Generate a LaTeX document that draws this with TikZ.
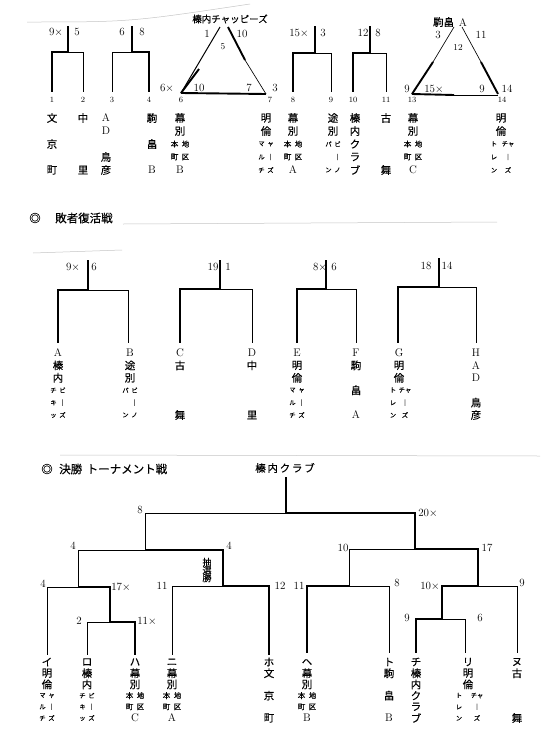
\documentclass[tikz,border=0pt]{standalone}
\usepackage{fontspec}
\newfontfamily\cjk[FakeBold=0.2]{Noto Sans CJK JP}
\usetikzlibrary{positioning}
\tikzset{
  thn/.style={line width=0.65pt},
  bld/.style={line width=1.9pt},
  scan/.style={gray!45,line width=0.5pt},
  sc/.style={font=\fontsize{11}{11}\selectfont,inner sep=0pt},
  no/.style={font=\fontsize{8}{8}\selectfont,inner sep=0pt},
  lb/.style={font=\cjk\fontsize{10.5}{10.5}\selectfont,inner sep=0pt},
  hd/.style={font=\cjk\fontsize{11.5}{11.5}\selectfont,inner sep=0pt}
}
\newcommand\kn{\fontsize{6.3}{6.3}\selectfont}
\newcommand\mdf{\fontsize{7.5}{7.5}\selectfont}
\newcommand\ltn[1]{{\rmfamily\fontsize{11}{11}\selectfont #1}}
\newcommand\kpair[3][9]{\makebox[#1pt]{\kn #2}\makebox[#1pt]{\kn #3}}
\newcommand\vstack[4]{\foreach \lab [count=\k from 0] in {#4}{\node[lb] (c#1r\k) at (#1,#2+\k*#3) {\lab};}}

\begin{document}
\begin{tikzpicture}[x=1pt,y=-1pt]
\fill[white] (0,0) rectangle (559,742);
\useasboundingbox (0,0) rectangle (559,742);
% scanned page marks
\draw[scan] (27,22) .. controls (130,22) .. (250,4);
\draw[scan] (123,224)--(497,222);
\draw[scan] (33,253)--(122,250);
\draw[scan] (60,455)--(540,456);

% ---- first round ----
\draw[bld] (68,26)--(68,52)--(52,52)--(52,92);
\draw[thn] (68,52)--(83,52)--(83,92);
\draw[bld] (132,26)--(132,52)--(149,52)--(149,92);
\draw[thn] (132,52)--(112,52)--(112,92);
\draw[bld] (315,26)--(315,53)--(293,53)--(293,92);
\draw[thn] (315,53)--(331,53)--(331,92);
\draw[bld] (370,26)--(370,53)--(353,53)--(353,92);
\draw[thn] (370,53)--(386,53)--(386,92);
\node[sc] (s1a) at (56,32) {9$\times$};
\node[sc] (s1b) at (77,32) {5};
\node[sc] (s2a) at (122,32) {6};
\node[sc] (s2b) at (142,32) {8};
\node[sc] (s3a) at (299,33) {15$\times$};
\node[sc] (s3b) at (323,33) {3};
\node[sc] (s4a) at (363,33) {12};
\node[sc] (s4b) at (378,33) {8};
\foreach \x/\n in {52/1,83/2,112/3,149/4,181/6,270/7,293/8,331/9,353/10,386/11,412/13,502/14}
  \node[no] (n\n) at (\x,100) {\n};

% league triangles
\draw[line width=1pt] (220,27)--(181,93);
\draw[bld] (199,69)--(181,93);
\draw[bld] (228,27)--(245,60);
\draw[thn] (245,60)--(266,94);
\draw[bld] (181,93)--(266,94);
\node[lb,font=\cjk\fontsize{9.5}{9.5}\selectfont] (ta) at (230,19) {榛内チャッピーズ};
\node[sc] at (207,34) {1};
\node[sc] at (242,34) {10};
\node[no,font=\fontsize{9}{9}\selectfont] at (223,47) {5};
\node[sc] at (167,88) {6$\times$};
\node[sc] at (199,88) {10};
\node[sc] at (249,88) {7};
\node[sc] at (275,88) {3};

\draw[thn] (454,27)--(433,62);
\draw[bld] (433,62)--(412,94);
\draw[thn] (462,27)--(481,62);
\draw[bld] (481,62)--(498,94);
\draw[bld] (412,94)--(454,95);
\draw[thn] (454,95)--(498,95);
\node[lb] (tb) at (450,22) {駒畠\ \ \ltn{A}};
\node[sc] at (438,35) {3};
\node[sc] at (481,35) {11};
\node[no,font=\fontsize{9}{9}\selectfont] at (458,48) {12};
\node[sc] at (407,89) {9};
\node[sc] at (434,89) {15$\times$};
\node[sc] at (482,89) {9};
\node[sc] at (507,89) {14};

\vstack{52}{118}{13}{文,{},京,{},町}
\vstack{83}{118}{13}{中,{},{},{},里}
\vstack{106}{118}{13}{\ltn{A},\ltn{D},{},鳥,彦}
\vstack{152}{118}{13}{駒,{},畠,{},\ltn{B}}
\vstack{180}{118}{13}{幕,別,\kpair[11]{\mdf 本}{\mdf 地},\kpair[11]{\mdf 町}{\mdf 区},\ltn{B}}
\vstack{266}{118}{13}{明,倫,\kpair{マ}{ャ},\kpair{ル}{｜},\kpair{チ}{ズ}}
\vstack{293}{118}{13}{幕,別,\kpair[11]{\mdf 本}{\mdf 地},\kpair[11]{\mdf 町}{\mdf 区},\ltn{A}}
\vstack{333}{118}{13}{途,別,\kpair{パ}{ビ},\kpair{}{｜},\kpair{ン}{ノ}}
\vstack{355}{118}{13}{榛,内,ク,ラ,ブ}
\vstack{386}{118}{13}{古,{},{},{},舞}
\vstack{413}{118}{13}{幕,別,\kpair[11]{\mdf 本}{\mdf 地},\kpair[11]{\mdf 町}{\mdf 区},\ltn{C}}
\vstack{501}{118}{13}{明,倫,\kpair[14]{ト}{チャ},\kpair[14]{レ}{｜},\kpair[14]{ン}{ズ}}

% ---- repechage ----
\node[hd] (h1) at (35,218) {◎};
\node[hd,anchor=west] (h1t) at (55,218) {敗者復活戦};
\draw[bld] (88,260)--(88,290)--(58,290)--(58,343);
\draw[thn] (88,290)--(128,290)--(128,343);
\draw[bld] (220,260)--(220,289)--(180,289)--(180,343);
\draw[thn] (220,289)--(252,289)--(252,343);
\draw[bld] (326,260)--(326,289)--(297,289)--(297,343);
\draw[thn] (326,289)--(356,289)--(356,343);
\draw[bld] (439,258)--(439,287)--(398,287)--(398,343);
\draw[thn] (439,287)--(476,287)--(476,343);
\node[sc] at (73,267) {9$\times$};
\node[sc] at (94,267) {6};
\node[sc] at (213,267) {19};
\node[sc] at (228,267) {1};
\node[sc] at (320,267) {8$\times$};
\node[sc] at (334,267) {6};
\node[sc] at (426,266) {18};
\node[sc] at (447,266) {14};
\vstack{58}{353}{12.4}{\ltn{A},榛,内,\kpair{チ}{ビ},\kpair{キ}{｜},\kpair{ッ}{ズ}}
\vstack{130}{353}{12.4}{\ltn{B},途,別,\kpair{パ}{ビ},\kpair{}{｜},\kpair{ン}{ノ}}
\vstack{180}{353}{12.4}{\ltn{C},古,{},{},{},舞}
\vstack{252}{353}{12.4}{\ltn{D},中,{},{},{},里}
\vstack{297}{353}{12.4}{\ltn{E},明,倫,\kpair{マ}{ャ},\kpair{ル}{｜},\kpair{チ}{ズ}}
\vstack{356}{353}{12.4}{\ltn{F},駒,{},畠,{},\ltn{A}}
\vstack{399}{353}{12.4}{\ltn{G},明,倫,\kpair[12]{ト}{チャ},\kpair[12]{レ}{｜},\kpair[12]{ン}{ズ}}
\vstack{476}{353}{12.4}{\ltn{H},\ltn{A},\ltn{D},{},鳥,彦}

% ---- final tournament ----
\node[hd] (h2) at (47,469) {◎};
\node[hd,anchor=west] (h2t) at (59,469) {決勝\ \,トーナメント戦};
\node[lb,font=\cjk\fontsize{10.5}{10.5}\selectfont] (champ) at (285,468) {榛\,内\,ク\,ラ\,ブ};
\draw[bld] (286,477)--(286,513)--(415,513)--(415,549)--(478,549)--(478,586)--(442,586)--(442,619)--(416,619)--(416,653);
\draw[thn] (286,513)--(145,513)--(145,550)--(78,550)--(78,587)--(47,587)--(47,655);
\draw[bld] (145,550)--(223,550)--(223,586)--(269,586)--(269,655);
\draw[thn] (223,586)--(172,586)--(172,655);
\draw[bld] (78,587)--(110,587)--(110,622)--(135,622)--(135,655);
\draw[thn] (110,622)--(87,622)--(87,655);
\draw[thn] (415,549)--(349,549)--(349,586)--(389,586)--(389,653);
\draw[bld] (349,586)--(307,586)--(307,653);
\draw[thn] (478,586)--(517,586)--(517,653);
\draw[thn] (442,619)--(465,619)--(465,653);
\node[sc] at (140,510) {8};
\node[sc] at (428,513) {20$\times$};
\node[sc] at (73,546) {4};
\node[sc] at (229,546) {4};
\node[lb,font=\cjk\fontsize{9}{9}\selectfont,align=center] (lot) at (207,570) {抽\\[-1pt]選\\[-1pt]勝};
\node[sc] at (343,548) {10};
\node[sc] at (487,548) {17};
\node[sc] at (43,584) {4};
\node[sc] at (121,587) {17$\times$};
\node[sc] at (162,586) {11};
\node[sc] at (280,586) {12};
\node[sc] at (299,586) {11};
\node[sc] at (397,583) {8};
\node[sc] at (430,586) {10$\times$};
\node[sc] at (522,583) {9};
\node[sc] at (79,621) {2};
\node[sc] at (147,621) {11$\times$};
\node[sc] at (407,618) {9};
\node[sc] at (480,618) {6};
\vstack{47}{662}{11.2}{イ,明,倫,\kpair{マ}{ャ},\kpair{ル}{｜},\kpair{チ}{ズ}}
\vstack{87}{662}{11.2}{ロ,榛,内,\kpair{チ}{ビ},\kpair{キ}{｜},\kpair{ッ}{ズ}}
\vstack{135}{662}{11.2}{ハ,幕,別,\kpair[11]{\mdf 本}{\mdf 地},\kpair[11]{\mdf 町}{\mdf 区},\ltn{C}}
\vstack{172}{662}{11.2}{ニ,幕,別,\kpair[11]{\mdf 本}{\mdf 地},\kpair[11]{\mdf 町}{\mdf 区},\ltn{A}}
\vstack{269}{662}{11.2}{ホ,文,{},京,{},町}
\vstack{307}{662}{11.2}{ヘ,幕,別,\kpair[11]{\mdf 本}{\mdf 地},\kpair[11]{\mdf 町}{\mdf 区},\ltn{B}}
\vstack{389}{662}{11.2}{ト,駒,{},畠,{},\ltn{B}}
\vstack{416}{662}{11.2}{チ,榛,内,ク,ラ,ブ}
\vstack{468}{662}{11.2}{リ,明,倫,\kpair[18]{ト}{チャ},\kpair[18]{レ}{｜},\kpair[18]{ン}{ズ}}
\vstack{517}{662}{11.2}{ヌ,古,{},{},{},舞}
\end{tikzpicture}
\end{document}
